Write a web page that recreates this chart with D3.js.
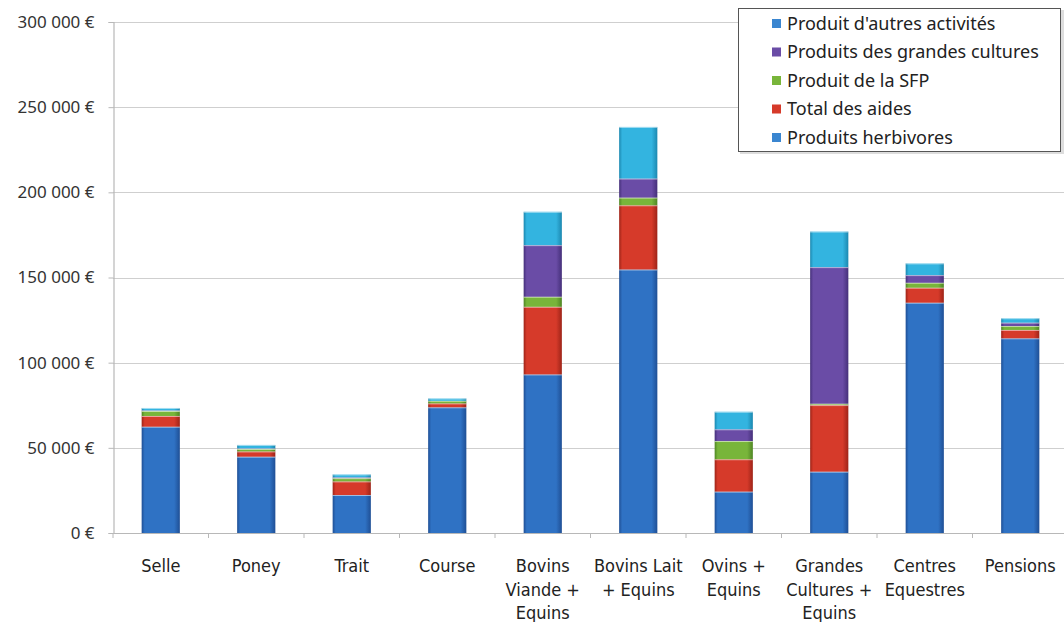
<!DOCTYPE html>
<html><head><meta charset="utf-8">
<script src="https://cdnjs.cloudflare.com/ajax/libs/d3/7.8.5/d3.min.js"></script>
<style>
html,body{margin:0;padding:0;background:#fff;}
svg{display:block;}
</style></head>
<body>
<svg id="chart" width="1064" height="622"></svg>
<script>
const categories = [
  ["Selle"], ["Poney"], ["Trait"], ["Course"],
  ["Bovins", "Viande +", "Equins"], ["Bovins Lait", "+ Equins"],
  ["Ovins +", "Equins"], ["Grandes", "Cultures +", "Equins"],
  ["Centres", "Equestres"], ["Pensions"]
];
const produitsHerbivores   = [62400, 44800, 22300, 73800, 93100, 154700, 24300, 36000, 135200, 114300];
const totalDesAides        = [6300, 3100, 8000, 2300, 39700, 37700, 19000, 39100, 8800, 4900];
const produitDeLaSFP       = [3000, 1500, 1900, 1500, 5900, 4500, 10700, 800, 2900, 2300];
const produitsGrandesCult  = [300, 300, 500, 0, 30300, 11200, 6900, 80200, 4500, 2000];
const produitAutresActiv   = [1400, 2000, 1700, 1400, 19600, 30300, 10300, 20900, 6900, 2600];
const yTicks = [0, 50000, 100000, 150000, 200000, 250000, 300000];

const seriesNames = ["Produits herbivores", "Total des aides", "Produit de la SFP",
                     "Produits des grandes cultures", "Produit d'autres activités"];
const seriesData = [produitsHerbivores, totalDesAides, produitDeLaSFP, produitsGrandesCult, produitAutresActiv];
const colors = ["#2f72c4", "#d63a2a", "#78b53a", "#6a4ca6", "#33b4e0"];
const edgeColors = ["#1f4f95", "#9e2418", "#4f8624", "#45307a", "#1c88b0"];
const legendColors = ["#3a86d0", "#d63a2a", "#78b53a", "#6a4ca6", "#3a86d0"];

const svg = d3.select("#chart");
const margin = {left: 113, right: -4, top: 22, bottom: 89};
const W = 1064, H = 622;
const x = d3.scaleBand().domain(d3.range(categories.length)).range([margin.left, W - margin.right]).paddingInner(0.6).paddingOuter(0.3);
const y = d3.scaleLinear().domain([0, 300000]).range([H - margin.bottom, margin.top]);

const defs = svg.append("defs");
colors.forEach((c, i) => {
  const g = defs.append("linearGradient").attr("id", "g" + i).attr("x1", "0").attr("x2", "1").attr("y1", "0").attr("y2", "0");
  g.append("stop").attr("offset", "0%").attr("stop-color", edgeColors[i]);
  g.append("stop").attr("offset", "8%").attr("stop-color", c);
  g.append("stop").attr("offset", "85%").attr("stop-color", c);
  g.append("stop").attr("offset", "100%").attr("stop-color", edgeColors[i]);
});

// gridlines
svg.append("g").selectAll("line").data(yTicks.slice(1)).join("line")
  .attr("x1", margin.left).attr("x2", W)
  .attr("y1", d => Math.round(y(d)) + 0.5).attr("y2", d => Math.round(y(d)) + 0.5)
  .attr("stroke", "#cfcfcf").attr("stroke-width", 1.2);

// y axis
const yAxis = d3.axisLeft(y).tickValues(yTicks).tickSize(5).tickPadding(14)
  .tickFormat(d => d3.format(",")(d).replace(/,/g, " ") + " €");
const yg = svg.append("g").attr("transform", `translate(${margin.left + 0.5},0)`).call(yAxis);
yg.select(".domain").attr("stroke", "#b8b8b8").attr("stroke-width", 1.2);
yg.selectAll(".tick line").attr("stroke", "#b8b8b8");
yg.selectAll(".tick text").attr("font-family", "'Noto Sans', sans-serif").attr("font-size", 17).attr("fill", "#333");

// stacked bars
const stacked = d3.stack().keys(d3.range(seriesData.length)).value((d, k) => seriesData[k][d])(d3.range(categories.length));
const layers = svg.append("g").selectAll("g").data(stacked).join("g")
  .attr("fill", (d, i) => `url(#g${i})`);
layers.selectAll("rect").data(d => d).join("rect")
  .attr("x", (d, i) => x(i))
  .attr("width", x.bandwidth())
  .attr("y", d => y(d[1]))
  .attr("height", d => Math.max(0, y(d[0]) - y(d[1])));
// thin light separators
layers.selectAll("line").data(d => d.filter(v => v[1] - v[0] > 0)).join("line")
  .attr("x1", d => x(d.data)).attr("x2", d => x(d.data) + x.bandwidth())
  .attr("y1", d => y(d[1]) + 0.5).attr("y2", d => y(d[1]) + 0.5)
  .attr("stroke", "#ffffff").attr("stroke-opacity", 0.55).attr("stroke-width", 1);

// x axis
const xAxis = d3.axisBottom(x).tickSize(0).tickFormat("");
const xg = svg.append("g").attr("transform", `translate(0,${y(0) + 0.5})`).call(xAxis);
xg.select(".domain").attr("stroke", "#b8b8b8").attr("stroke-width", 1.2).attr("d", `M${margin.left},0H${W}`);
const step = x.step();
svg.append("g").selectAll("line").data(d3.range(categories.length + 1)).join("line")
  .attr("x1", i => x(0) - step * 0.5 + x.bandwidth() / 2 + i * step)
  .attr("x2", i => x(0) - step * 0.5 + x.bandwidth() / 2 + i * step)
  .attr("y1", y(0)).attr("y2", y(0) + 5)
  .attr("stroke", "#b8b8b8");

const labels = svg.append("g").attr("font-family", "'Liberation Sans Narrow', 'DejaVu Sans Condensed', sans-serif")
  .attr("font-size", 18).attr("fill", "#222").attr("text-anchor", "middle");
categories.forEach((lines, i) => {
  const t = labels.append("text").attr("x", x(i) + x.bandwidth() / 2).attr("y", 572);
  lines.forEach((l, j) => t.append("tspan").attr("x", x(i) + x.bandwidth() / 2).attr("dy", j === 0 ? 0 : 23.5).text(l));
});

// legend
const lg = svg.append("g").attr("transform", "translate(738,8)");
lg.append("rect").attr("x", 2).attr("y", 2).attr("width", 324).attr("height", 144).attr("fill", "#ddd");
lg.append("rect").attr("x", 0.5).attr("y", 0.5).attr("width", 322).attr("height", 143)
  .attr("fill", "#fff").attr("stroke", "#555").attr("stroke-width", 1);
const order = d3.range(seriesNames.length).reverse();
order.forEach((k, j) => {
  const yy = 15 + j * 28.5;
  lg.append("rect").attr("x", 34).attr("y", yy - 4).attr("width", 9).attr("height", 9).attr("fill", legendColors[k]);
  lg.append("text").attr("x", 49).attr("y", yy + 6.5)
    .attr("font-family", "'Noto Sans', sans-serif").attr("font-size", 18).attr("fill", "#222")
    .text(seriesNames[k]);
});
</script>
</body></html>
